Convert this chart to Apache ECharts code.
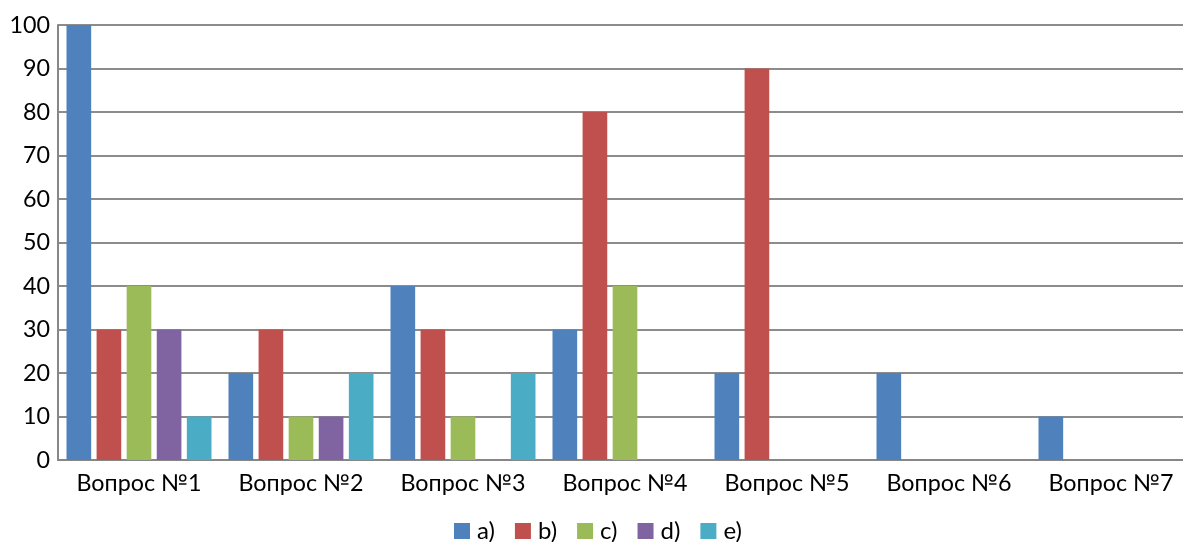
<!DOCTYPE html>
<html>
<head>
<meta charset="utf-8">
<script src="https://cdn.jsdelivr.net/npm/echarts@6/dist/echarts.min.js"></script>
<style>
  html, body { margin: 0; padding: 0; background: #fff; overflow: hidden; }
  /* canvas is a little wider than the window so the plot area can run past the right edge */
  #chart { width: 1200px; height: 542px; }
</style>
</head>
<body>
<div id="chart"></div>
<script>
// Survey answers per question, percent
const categories = ['Вопрос №1', 'Вопрос №2', 'Вопрос №3', 'Вопрос №4', 'Вопрос №5', 'Вопрос №6', 'Вопрос №7'];
const seriesNames = ['a)', 'b)', 'c)', 'd)', 'e)'];
const valuesA = [100, 20, 40, 30, 20, 20, 10];
const valuesB = [30, 30, 30, 80, 90, 0, 0];
const valuesC = [40, 10, 10, 40, 0, 0, 0];
const valuesD = [30, 10, 0, 0, 0, 0, 0];
const valuesE = [10, 20, 20, 0, 0, 0, 0];
const colors = ['#4F81BD', '#C0504D', '#9BBB59', '#8064A2', '#4BACC6'];

const allValues = [valuesA, valuesB, valuesC, valuesD, valuesE];
const font = 'Lato, "Open Sans", sans-serif';

const chart = echarts.init(document.getElementById('chart'), null, { renderer: 'canvas' });
chart.setOption({
  animation: false,
  color: colors,
  grid: { left: 58, top: 25, width: 1134, height: 435, containLabel: false },
  legend: {
    top: 512,
    left: 449,
    itemWidth: 16,
    itemHeight: 16,
    itemGap: 20,
    icon: 'rect',
    textStyle: { fontFamily: font, fontSize: 24, lineHeight: 28, color: '#000', padding: [0, 0, 0, 2] },
    data: seriesNames
  },
  xAxis: {
    type: 'category',
    data: categories,
    axisLine: { lineStyle: { color: '#878787', width: 2 } },
    axisTick: { show: false },
    axisLabel: { interval: 0, fontFamily: font, fontSize: 23.3, color: '#000', margin: 12 }
  },
  yAxis: {
    type: 'value',
    min: 0,
    max: 100,
    interval: 10,
    axisLine: { show: true, lineStyle: { color: '#878787', width: 2 } },
    axisTick: { show: false },
    splitLine: { lineStyle: { color: '#8c8c8c', width: 2 } },
    axisLabel: { fontFamily: font, fontSize: 23.3, color: '#000', margin: 8 }
  },
  series: allValues.map((vals, i) => ({
    name: seriesNames[i],
    type: 'bar',
    data: vals,
    barGap: '22%',
    barCategoryGap: '10.5%'
  }))
});
</script>
</body>
</html>
